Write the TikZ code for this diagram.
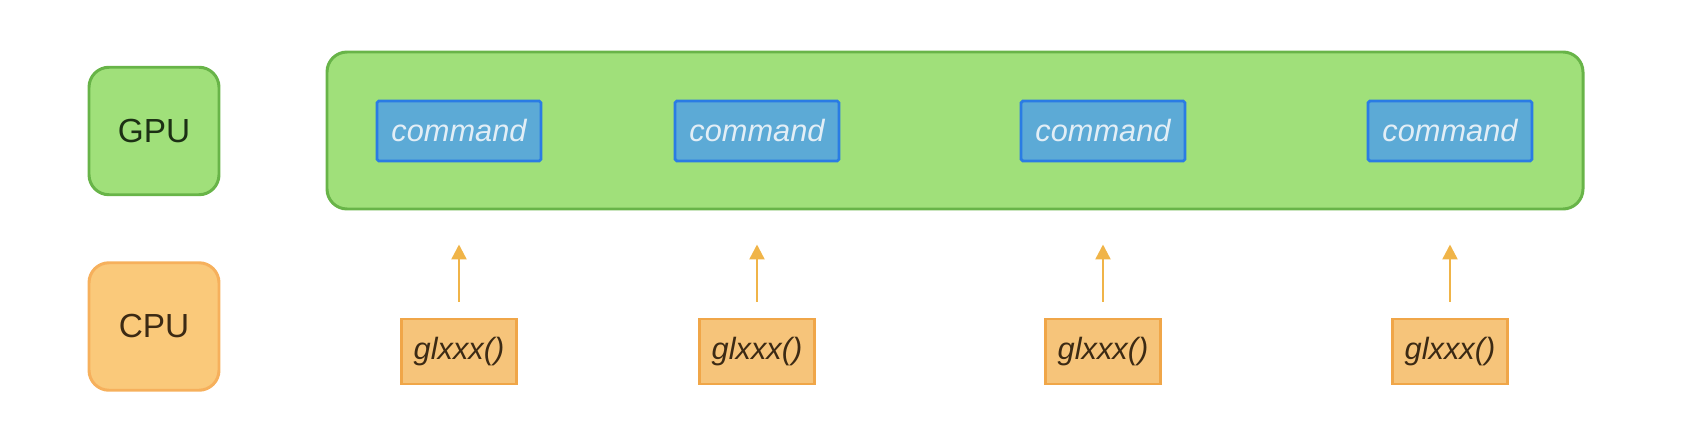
\documentclass[tikz,border=0pt]{standalone}
\usepackage{fontspec}
\setmainfont{Liberation Sans}
\usepackage{tikz}
\usetikzlibrary{positioning, arrows.meta}

\definecolor{gpufill}{RGB}{160,224,122}
\definecolor{gpudraw}{RGB}{104,180,72}
\definecolor{cmdfill}{RGB}{92,170,214}
\definecolor{cmddraw}{RGB}{42,124,228}
\definecolor{cmdtext}{RGB}{226,238,246}
\definecolor{cpufill}{RGB}{250,201,122}
\definecolor{cpudraw}{RGB}{246,176,92}
\definecolor{glfill}{RGB}{246,196,122}
\definecolor{gldraw}{RGB}{240,166,72}
\definecolor{arrowcol}{RGB}{240,180,72}
\definecolor{gputext}{RGB}{28,48,20}
\definecolor{cputext}{RGB}{60,42,20}

\tikzset{
  unit/.style={rounded corners=0.4cm, line width=1.7pt, minimum width=2.6cm,
    minimum height=2.55cm, font=\fontsize{19}{22}\selectfont},
  gpubox/.style={unit, fill=gpufill, draw=gpudraw, text=gputext},
  cpubox/.style={unit, fill=cpufill, draw=cpudraw, text=cputext},
  cmdbox/.style={fill=cmdfill, draw=cmddraw, line width=1.6pt, rounded corners=1pt,
    minimum width=3.28cm, minimum height=1.2cm, text=cmdtext,
    font=\fontsize{17.5}{20}\selectfont\itshape},
  glbox/.style={fill=glfill, draw=gldraw, line width=1.2pt,
    minimum width=2.3cm, minimum height=1.3cm, text=cputext,
    font=\fontsize{17.5}{20}\selectfont\itshape},
  callarrow/.style={draw=arrowcol, line width=1.4pt, -{Triangle[width=0.3cm,length=0.3cm]}}
}

\begin{document}
\begin{tikzpicture}
\useasboundingbox (0,0) rectangle (33.96,8.48);

\node[gpubox] (gpu) at (3.08,5.86) {GPU};
\node[cpubox] (cpu) at (3.08,1.95) {CPU};

% command queue on the GPU
\node[fill=gpufill, draw=gpudraw, line width=1.7pt, rounded corners=0.4cm,
  minimum width=25.12cm, minimum height=3.14cm] (queue) at (19.1,5.87) {};

\foreach \i/\x in {1/9.18, 2/15.14, 3/22.06, 4/29.0} {
  \node[cmdbox] (cmd\i) at (\x,5.86) {command};
  \node[glbox] (gl\i) at (\x,1.45) {glxxx()};
  \draw[callarrow, shorten <=0.32cm, shorten >=0.68cm] (gl\i.north) -- (gl\i.north |- queue.south);
}

\end{tikzpicture}
\end{document}
